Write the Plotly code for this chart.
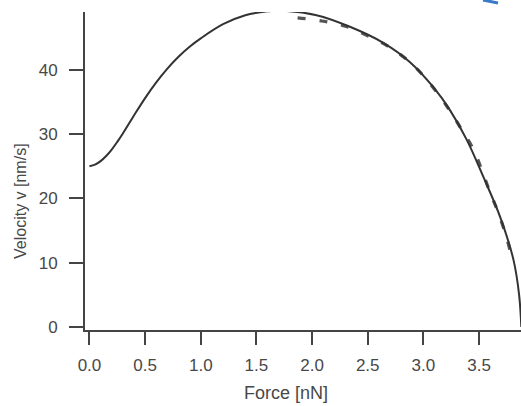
import plotly.graph_objects as go

# Solid fitted curve
force_solid = [0.00, 0.05, 0.10, 0.15, 0.20, 0.25, 0.30, 0.40, 0.50, 0.60, 0.70, 0.80, 0.90,
               1.00, 1.20, 1.40, 1.60, 1.72, 2.04, 2.34, 2.64, 2.88, 3.09, 3.24, 3.39, 3.54,
               3.69, 3.81, 3.86, 3.88]
vel_solid = [25.0, 25.25, 25.8, 26.6, 27.6, 28.8, 30.1, 32.9, 35.6, 38.05, 40.2, 42.05, 43.6,
             44.9, 47.1, 48.5, 49.1, 49.2, 48.5, 46.7, 44.2, 41.2, 37.3, 33.7, 29.1, 23.3,
             17.1, 10.4, 5.0, 0.0]

# Dashed curve
force_dash = [1.87, 2.09, 2.30, 2.50, 2.70, 2.91, 3.08, 3.22, 3.33, 3.45, 3.60, 3.67, 3.75, 3.80]
vel_dash = [48.1, 47.6, 46.8, 45.3, 43.5, 40.7, 37.4, 34.1, 31.1, 27.6, 20.9, 17.9, 13.8, 10.2]

x_ticks = [0.0, 0.5, 1.0, 1.5, 2.0, 2.5, 3.0, 3.5]
y_ticks = [0, 10, 20, 30, 40]

fig = go.Figure()
fig.add_trace(go.Scatter(x=force_dash, y=vel_dash, mode="lines",
                         line=dict(color="#555555", width=3.2, dash="8px,14px", shape="spline"),
                         cliponaxis=False, hoverinfo="skip"))
fig.add_trace(go.Scatter(x=force_solid, y=vel_solid, mode="lines",
                         line=dict(color="#333333", width=2, shape="spline", smoothing=1.0),
                         cliponaxis=False, hoverinfo="skip"))

axis_color = "#444444"
fam = "Liberation Sans, Arial, sans-serif"
tick_font = dict(family=fam, size=17, color="#484848")

# plot area in pixels: x 85..521, y 12..330
def px_to_paper(px, py):
    return (px - 85) / 436.0, (330 - py) / 318.0

fx, fy = px_to_paper(286, 393)
vx, vy = px_to_paper(20, 201)
bx0, by0 = px_to_paper(483, 0)
bx1, by1 = px_to_paper(498, 3)

fig.update_layout(
    width=521, height=406,
    margin=dict(l=85, r=0, t=12, b=76),
    paper_bgcolor="white", plot_bgcolor="white",
    showlegend=False,
    font=tick_font,
    xaxis=dict(range=[-0.04, 3.877], tickvals=x_ticks, ticktext=[f"{v:.1f}" for v in x_ticks],
               showgrid=False, zeroline=False, showline=True, linecolor=axis_color, linewidth=2,
               ticks="outside", ticklen=13, tickwidth=2, tickcolor=axis_color,
               ticklabelstandoff=6, tickfont=tick_font),
    yaxis=dict(range=[-0.47, 49.0], tickvals=y_ticks,
               showgrid=False, zeroline=False, showline=True, linecolor=axis_color, linewidth=2,
               ticks="outside", ticklen=14, tickwidth=2, tickcolor=axis_color,
               ticklabelstandoff=8, tickfont=tick_font),
    annotations=[
        dict(text="Force [nN]", x=fx, y=fy, xref="paper", yref="paper", showarrow=False,
             xanchor="center", yanchor="middle", font=dict(family=fam, size=18, color="#484848")),
        dict(text="Velocity v [nm/s]", x=vx, y=vy, xref="paper", yref="paper", showarrow=False,
             xanchor="center", yanchor="middle", textangle=-90,
             font=dict(family=fam, size=16, color="#484848")),
    ],
    shapes=[dict(type="line", xref="paper", yref="paper", x0=bx0, y0=by0, x1=bx1, y1=by1,
                 line=dict(color="#3a78c8", width=3))],
)

fig.write_html("out.html", config={"displayModeBar": False},
               post_script="document.body.style.margin='0px';")
